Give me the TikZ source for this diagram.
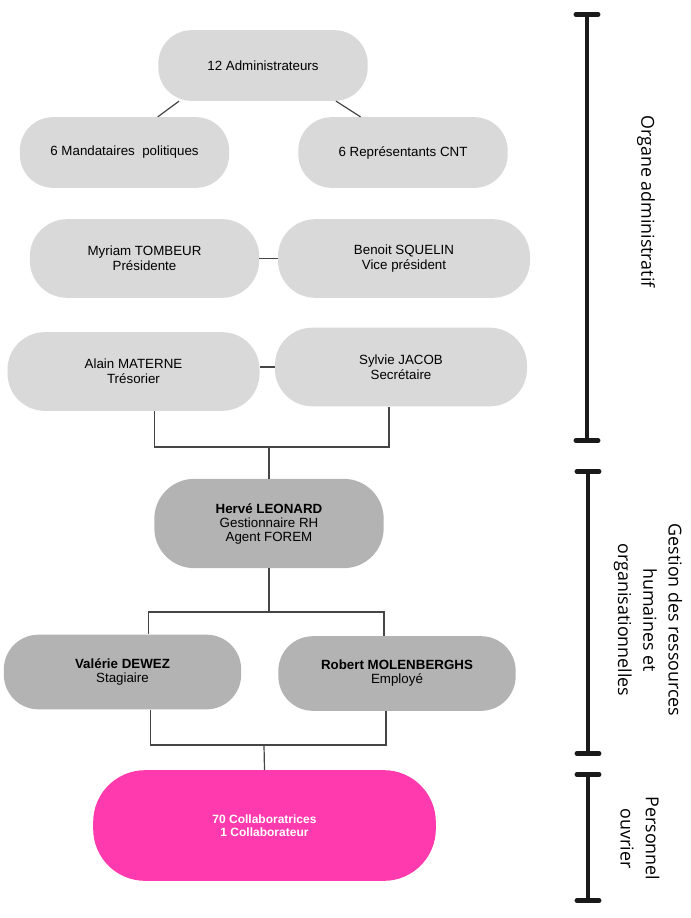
\documentclass[tikz,border=0pt]{standalone}
\usepackage{fontspec}
\setmainfont{Liberation Sans}
\newfontfamily\sidefont{Open Sans}
\usetikzlibrary{arrows.meta,calc}
\definecolor{lightgrey}{HTML}{D9D9D9}
\definecolor{midgrey}{HTML}{B3B3B3}
\definecolor{pinkfill}{HTML}{FF3AAE}
\definecolor{linkgrey}{HTML}{454545}
\definecolor{bargrey}{HTML}{1A1A1A}
\tikzset{
    lightbox/.style ={
        shape=rectangle,
        rounded corners=25pt,
        fill=lightgrey,
        align=center,
        inner sep=0pt,
        minimum width=157pt,
        minimum height=53pt,
        font=\fontsize{10}{11}\selectfont
    },
    officebox/.style ={
        lightbox,
        rounded corners=28pt,
        minimum width=189pt,
        minimum height=59pt
    },
    staffbox/.style ={
        shape=rectangle,
        rounded corners=26pt,
        fill=midgrey,
        align=center,
        inner sep=0pt,
        minimum width=178pt,
        minimum height=56pt,
        font=\fontsize{10}{10.5}\selectfont
    },
    pinkbox/.style ={
        shape=rectangle,
        rounded corners=39pt,
        fill=pinkfill,
        text=white,
        align=center,
        inner sep=0pt,
        minimum width=257pt,
        minimum height=83pt,
        font=\bfseries\fontsize{9}{10}\selectfont
    },
    connector/.style ={
        draw=linkgrey,
        line width=0.9pt
    },
    sidebar/.style ={
        draw=bargrey,
        line width=3.7pt,
        arrows={Bar[width=16.5pt,line cap=round]-Bar[width=16.5pt,line cap=round]}
    },
    sidelabel/.style ={
        rotate=-90,
        align=center,
        font=\sidefont\fontsize{13.4}{19}\selectfont
    }
}

\begin{document}
\begin{tikzpicture}[x=0.75pt,y=-0.75pt]
    \path[fill=white,use as bounding box] (0,0) rectangle (690,918);

    % organe administratif
    \node[lightbox] (admin) at(263,65.5) {12 Administrateurs};
    \node[lightbox] (mand) at(124.5,152.5) {6 Mandataires\ \ politiques};
    \node[lightbox] (rep) at(403,152.5) {6 Représentants CNT};
    \node[officebox,minimum width=172pt] (pres) at(144.5,258.5) {Myriam TOMBEUR\\Présidente};
    \node[officebox] (vice) at(404,258.5) {Benoit SQUELIN\\Vice président};
    \node[officebox] (tres) at(133.5,371.5) {Alain MATERNE\\Trésorier};
    \node[officebox] (sec) at(401,367) {Sylvie JACOB\\Secrétaire};

    % gestion
    \node[staffbox,minimum width=172pt,minimum height=67pt,rounded corners=30pt] (hr) at(269,523.5) {\textbf{Hervé LEONARD}\\Gestionnaire RH\\Agent FOREM};
    \node[staffbox] (stag) at(122.5,672) {\textbf{Valérie DEWEZ}\\Stagiaire};
    \node[staffbox] (empl) at(397,673.5) {\textbf{Robert MOLENBERGHS}\\Employé};

    % personnel
    \node[pinkbox] (pers) at(264.5,825.5) {70 Collaboratrices\\1 Collaborateur};

    \coordinate (j1) at (269,447);
    \coordinate (j2) at (269,612);
    \coordinate (j3) at (264,745);

    \draw[connector] (admin.-157) -- (mand.47);
    \draw[connector] (admin.-26) -- (rep.140);
    \draw[connector] (pres.east) -- (vice.west);
    \draw[connector] (sec.west) -- (sec.west -| tres.east);
    \draw[connector] ($(tres.south)+(21,0)$) |- (j1) -| ($(sec.south)+(-12,0)$);
    \draw[connector] (j1) -- (hr.north);
    \draw[connector] (hr.south) -- (j2);
    \draw[connector] ($(stag.north)+(26,0)$) |- (j2) -| ($(empl.north)+(-13,0)$);
    \draw[connector] ($(stag.south)+(28,0)$) |- (j3) -| ($(empl.south)+(-11,0)$);
    \draw[connector] (j3) -- (pers.north);

    % echelle a droite
    \coordinate (oatop) at (587,12);
    \coordinate (oabot) at (587,443);
    \coordinate (grtop) at (588,469);
    \coordinate (grbot) at (588,756);
    \coordinate (potop) at (588,772);
    \coordinate (pobot) at (588,903);
    \draw[sidebar] (oatop) -- (oabot);
    \draw[sidebar] (grtop) -- (grbot);
    \draw[sidebar] (potop) -- (pobot);
    \node[sidelabel] (oalabel) at(646,201.5) {Organe administratif};
    \node[sidelabel] (grlabel) at(648,620) {Gestion des ressources\\humaines et\\organisationnelles};
    \node[sidelabel] (polabel) at(640,838.5) {Personnel\\ouvrier};
\end{tikzpicture}
\end{document}
